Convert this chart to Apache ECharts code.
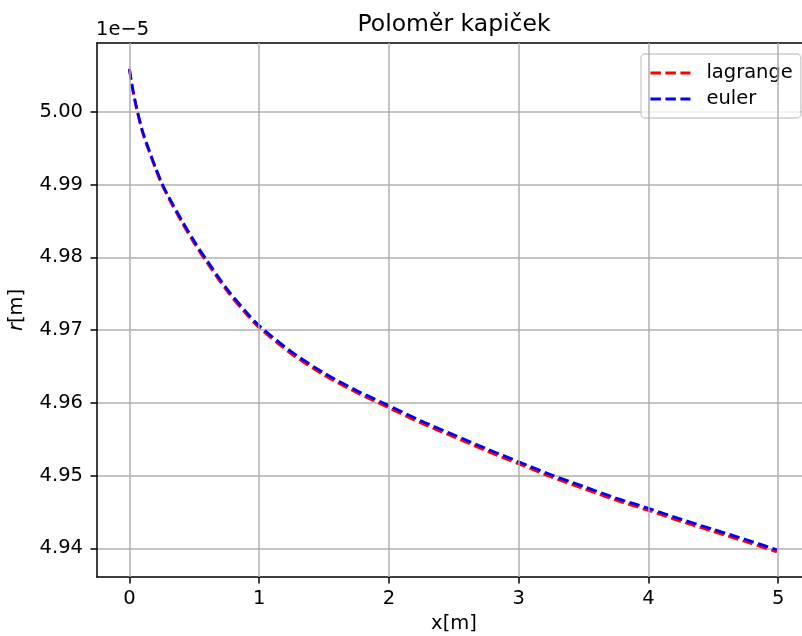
<!DOCTYPE html>
<html>
<head>
<meta charset="utf-8">
<script src="https://cdn.jsdelivr.net/npm/echarts@6/dist/echarts.min.js"></script>
<style>
html,body{margin:0;padding:0;background:#fff;}
#chart{width:802px;height:636px;}
</style>
</head>
<body>
<div id="chart"></div>
<script>
// values in units of 1e-5 m
const xValues = [0, 0.02, 0.05, 0.1, 0.15, 0.2, 0.25, 0.3, 0.4, 0.5, 0.6, 0.75, 0.9, 1.0, 1.25, 1.5, 1.75, 2.0, 2.25, 2.5, 2.75, 3.0, 3.25, 3.5, 3.75, 4.0, 4.25, 4.5, 4.75, 4.99];
const lagrange = [5.0058, 5.0035, 5.0008, 4.9972, 4.9946, 4.9922, 4.9900, 4.9882, 4.9849, 4.9819, 4.9792, 4.9754, 4.9722, 4.9703, 4.9667, 4.9638, 4.9614, 4.9593, 4.9572, 4.9553, 4.9534, 4.9516, 4.9498, 4.9482, 4.9466, 4.9452, 4.9437, 4.9423, 4.9409, 4.9395];
const euler = [5.0059, 5.0037, 5.0010, 4.9974, 4.9948, 4.9924, 4.9902, 4.9884, 4.9852, 4.9822, 4.9795, 4.9757, 4.9725, 4.9706, 4.9670, 4.9641, 4.9617, 4.9596, 4.9575, 4.9556, 4.9537, 4.9519, 4.9501, 4.9485, 4.9469, 4.9455, 4.9440, 4.9426, 4.9412, 4.9398];
const xTicks = [0, 1, 2, 3, 4, 5];
const yTicks = [4.94, 4.95, 4.96, 4.97, 4.98, 4.99, 5.00];
const seriesNames = ['lagrange', 'euler'];
const titleText = 'Poloměr kapiček';
const xLabel = 'x[m]';
const offsetText = '1e\u22125';

const FONT = 'DejaVu Sans';
const chart = echarts.init(document.getElementById('chart'), null, {renderer: 'canvas'});
const pair = (xs, ys) => xs.map((x, i) => [x, ys[i]]);
const dash = [10.5, 4.5];
const FS = 19.5;
const X_MIN = -0.25, X_MAX = 5.1835;
const GRID_COLOR = '#b0b0b0';

chart.setOption({
  animation: false,
  backgroundColor: '#ffffff',
  textStyle: {fontFamily: FONT},
  grid: {left: 97, top: 43, right: 0, bottom: 59, containLabel: false},
  xAxis: [{
    type: 'value', min: X_MIN, max: X_MAX, position: 'bottom',
    axisLine: {show: true, onZero: false, lineStyle: {color: '#000', width: 1.5}},
    axisTick: {show: true, inside: false, length: 6.5, lineStyle: {color: '#000', width: 1.5}, customValues: xTicks},
    axisLabel: {show: true, margin: 12, color: '#000', fontSize: FS, fontFamily: FONT, customValues: xTicks, formatter: v => String(v)},
    splitLine: {show: false}
  }, {
    type: 'value', min: X_MIN, max: X_MAX, position: 'top',
    axisLine: {show: true, onZero: false, lineStyle: {color: '#000', width: 1.5}},
    axisTick: {show: false}, axisLabel: {show: false}, splitLine: {show: false}
  }],
  yAxis: {
    type: 'value', min: 4.93605, max: 5.00945,
    axisLine: {show: true, onZero: false, lineStyle: {color: '#000', width: 1.5}},
    axisTick: {show: true, inside: false, length: 6.5, lineStyle: {color: '#000', width: 1.5}, customValues: yTicks},
    axisLabel: {show: true, margin: 14, color: '#000', fontSize: FS, fontFamily: FONT, customValues: yTicks, formatter: v => v.toFixed(2)},
    splitLine: {show: true, lineStyle: {color: GRID_COLOR, width: 1.5}}
  },
  legend: {
    orient: 'vertical', left: 641, top: 54,
    data: seriesNames,
    itemWidth: 40, itemHeight: 22, itemGap: 6,
    padding: [9, 8, 9, 8],
    backgroundColor: 'rgba(255,255,255,0.8)',
    borderColor: '#cccccc', borderWidth: 1.3, borderRadius: 4,
    itemStyle: {opacity: 0},
    lineStyle: {width: 2.8},
    textStyle: {fontSize: FS, color: '#000', fontFamily: FONT, padding: [0, 0, 0, 11]}
  },
  series: [
    {name: 'xgrid', type: 'line', xAxisIndex: 0, data: [], z: 1, silent: true,
     markLine: {silent: true, symbol: 'none', label: {show: false}, animation: false,
       lineStyle: {color: GRID_COLOR, width: 1.5, type: 'solid'},
       data: xTicks.map(v => ({xAxis: v}))}},
    {name: seriesNames[0], type: 'line', xAxisIndex: 0, data: pair(xValues, lagrange), showSymbol: false, symbol: 'none', smooth: 0.3,
     lineStyle: {color: '#ff0000', width: 2.8, type: dash}, itemStyle: {color: '#ff0000'}, z: 3},
    {name: seriesNames[1], type: 'line', xAxisIndex: 0, data: pair(xValues, euler), showSymbol: false, symbol: 'none', smooth: 0.3,
     lineStyle: {color: '#0000ff', width: 2.8, type: dash}, itemStyle: {color: '#0000ff'}, z: 4}
  ],
  graphic: [
    {type: 'text', style: {text: titleText, x: 454, y: 25, font: '23.5px "DejaVu Sans"', fill: '#000', textAlign: 'center', textVerticalAlign: 'middle'}, silent: true},
    {type: 'text', style: {text: offsetText, x: 96, y: 30, font: FS + 'px "DejaVu Sans"', fill: '#000', textAlign: 'left', textVerticalAlign: 'middle'}, silent: true},
    {type: 'text', style: {text: xLabel, x: 454, y: 624, font: FS + 'px "DejaVu Sans"', fill: '#000', textAlign: 'center', textVerticalAlign: 'middle'}, silent: true},
    {type: 'text', x: 17, y: 310, rotation: Math.PI / 2,
     style: {text: '{i|r}[m]', x: 0, y: 0, textAlign: 'center', textVerticalAlign: 'middle', fill: '#000',
       font: FS + 'px "DejaVu Sans"',
       rich: {i: {fontStyle: 'italic', fontSize: FS, fontFamily: FONT, fill: '#000'}}}, silent: true}
  ]
});
</script>
</body>
</html>
